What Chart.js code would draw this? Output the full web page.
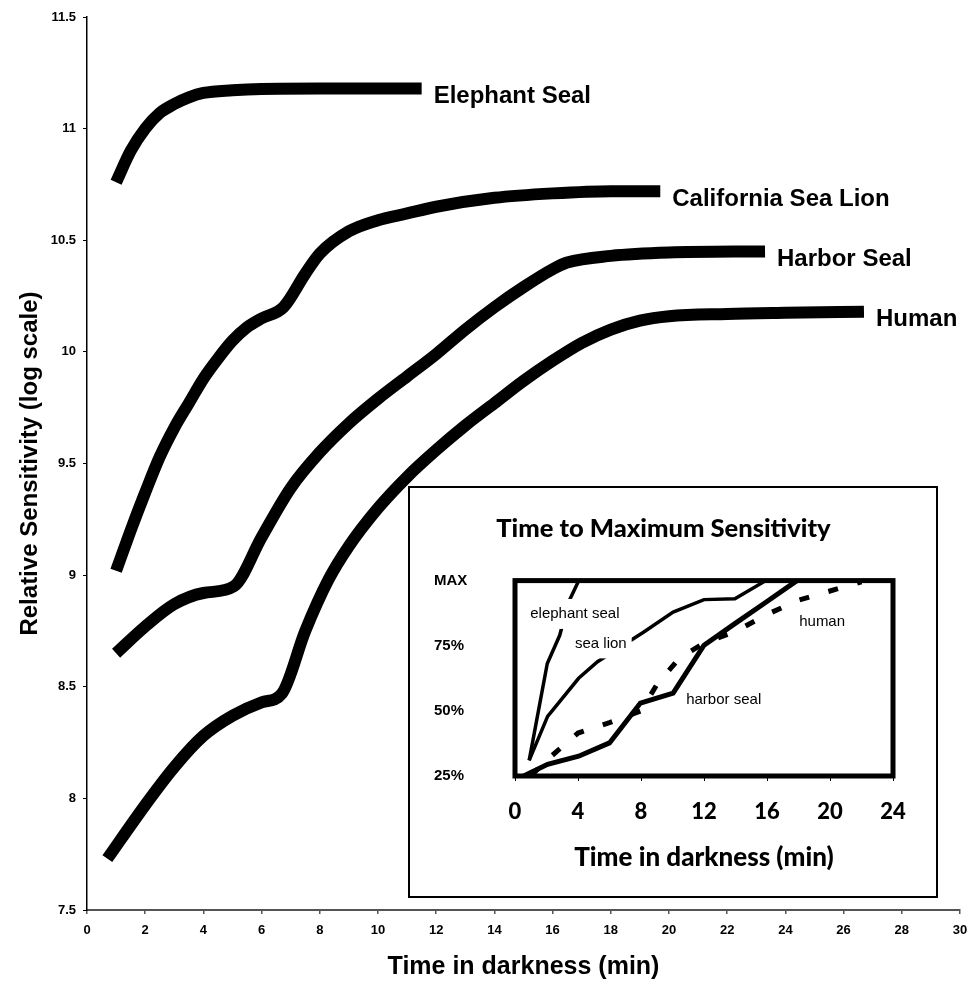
<!DOCTYPE html>
<html>
<head>
<meta charset="utf-8">
<script src="https://cdn.jsdelivr.net/npm/chart.js@4"></script>
<style>
  html, body { margin: 0; padding: 0; background: #fff; }
  #wrap { position: relative; width: 967px; height: 982px; }
  #main { display: block; }
  #inset { position: absolute; left: 408px; top: 486px; width: 530px; height: 412px;
           border: 2px solid #000; box-sizing: border-box; background: #fff; }
  #insetChart { display: block; }
</style>
</head>
<body>
<div id="wrap">
  <canvas id="main" width="967" height="982"></canvas>
  <div id="inset"><canvas id="insetChart" width="526" height="408"></canvas></div>
</div>
<script>
// ===== Main chart data =====
const seriesNames = ['Elephant Seal', 'California Sea Lion', 'Harbor Seal', 'Human'];

const elephantX = [1, 1.5, 2, 2.5, 3, 3.5, 4, 5, 6, 8, 10, 11.5];
const elephantY = [10.76, 10.9, 11.0, 11.07, 11.11, 11.14, 11.16, 11.172, 11.178, 11.18, 11.18, 11.18];

const seaLionX = [1, 1.5, 2, 2.5, 3, 3.5, 4, 4.5, 5, 5.5, 6, 6.75, 7.5, 8, 9, 10, 11, 12, 14, 16, 18, 19.7];
const seaLionY = [9.02, 9.2, 9.37, 9.53, 9.66, 9.77, 9.88, 9.97, 10.05, 10.11, 10.15, 10.2, 10.35, 10.44, 10.54, 10.59, 10.62, 10.65, 10.69, 10.71, 10.72, 10.72];

const harborX = [1, 2, 3, 4, 5.05, 6, 7, 8, 9, 10, 11, 12, 13, 14, 15, 16, 16.5, 18, 20, 23.3];
const harborY = [8.65, 8.77, 8.87, 8.92, 8.95, 9.17, 9.39, 9.55, 9.68, 9.79, 9.89, 9.99, 10.1, 10.2, 10.29, 10.37, 10.4, 10.43, 10.445, 10.45];

const humanX = [0.7, 2, 3, 4, 5, 6, 6.7, 7.5, 8.3, 9, 10, 11, 12, 13, 14, 15, 16, 17, 18, 19, 20, 22, 24, 26.7];
const humanY = [7.73, 7.97, 8.14, 8.28, 8.37, 8.43, 8.47, 8.75, 8.98, 9.13, 9.3, 9.44, 9.56, 9.67, 9.77, 9.87, 9.96, 10.04, 10.1, 10.14, 10.16, 10.17, 10.175, 10.18];

// ===== Inset data =====
const insetNames = ['elephant seal', 'sea lion', 'harbor seal', 'human'];
const insetTickValues = [25, 50, 75, 100];
const insetTickLabels = ['25%', '50%', '75%', 'MAX'];

const inElephantX = [0.9, 2.05, 2.84, 3.4, 4.05];
const inElephantY = [31, 68.2, 79, 91.7, 100];

const inSeaLionX = [0.9, 2.07, 4.04, 5.24, 8.18, 10.04, 12.0, 13.96, 15.93];
const inSeaLionY = [31, 47.9, 62.5, 68.85, 80.3, 87.9, 92.7, 93.0, 100];

const inHarborX = [0.55, 2.07, 4.04, 6.0, 7.96, 10.04, 12.0, 13.96, 15.93, 17.9];
const inHarborY = [25, 29.5, 32.6, 37.7, 53, 56.8, 75.2, 83.5, 91.7, 100];

const inHumanX = [1, 2, 4, 6, 8, 9, 10.4, 12, 14, 16, 18, 20, 22];
const inHumanY = [25, 31, 41.5, 45.5, 50, 60, 70, 76, 80.5, 87, 92.5, 96, 99.5];

const pts = (xs, ys) => xs.map((x, i) => ({ x, y: ys[i] }));
const ARIAL = '"Liberation Sans", Arial, sans-serif';
const INSET_FONT = 'Lato, "Open Sans", sans-serif';

// ===== Main chart =====
const mainData = [[elephantX, elephantY], [seaLionX, seaLionY], [harborX, harborY], [humanX, humanY]];

// series names written right after the end of each curve
const endLabels = {
  id: 'endLabels',
  afterDatasetsDraw(chart) {
    const { ctx, scales: { x, y } } = chart;
    ctx.save();
    ctx.font = 'bold 24px ' + ARIAL;
    ctx.fillStyle = '#000';
    ctx.textAlign = 'left';
    ctx.textBaseline = 'middle';
    chart.data.datasets.forEach((ds, i) => {
      const last = ds.data[ds.data.length - 1];
      ctx.fillText(seriesNames[i], x.getPixelForValue(last.x) + 12, y.getPixelForValue(last.y) + 8);
    });
    ctx.restore();
  }
};

new Chart(document.getElementById('main'), {
  type: 'line',
  data: {
    datasets: mainData.map((d, i) => ({
      label: seriesNames[i],
      data: pts(d[0], d[1]),
      borderColor: '#000',
      borderWidth: 12,
      borderCapStyle: 'butt',
      borderJoinStyle: 'round',
      cubicInterpolationMode: 'monotone',
      pointRadius: 0,
      fill: false,
      clip: false
    }))
  },
  options: {
    responsive: false,
    animation: false,
    layout: { padding: { left: 0, right: 0, top: 17, bottom: 0 } },
    plugins: { legend: { display: false }, tooltip: { enabled: false } },
    scales: {
      x: {
        type: 'linear', min: 0, max: 30,
        ticks: { stepSize: 2, color: '#000', padding: 9, font: { family: ARIAL, size: 13, weight: 'bold' } },
        grid: { drawOnChartArea: false, drawTicks: true, tickLength: 4, color: '#555', lineWidth: 1.5 },
        border: { color: '#555', width: 2 },
        title: { display: true, text: 'Time in darkness (min)', color: '#000',
                 font: { family: ARIAL, size: 25, weight: 'bold' }, padding: { top: 0, bottom: 0 } },
        afterFit(s) { s.height = 72; s.paddingRight = 7; s.paddingLeft = 0; }
      },
      y: {
        min: 7.5, max: 11.5,
        ticks: { stepSize: 0.5, color: '#000', padding: 7, font: { family: ARIAL, size: 13, weight: 'bold' },
                 callback: (v) => String(v) },
        grid: { drawOnChartArea: false, drawTicks: true, tickLength: 4, color: '#000' },
        border: { color: '#000', width: 1.5 },
        title: { display: true, text: 'Relative Sensitivity (log scale)', color: '#000',
                 font: { family: ARIAL, size: 24, weight: 'bold' }, padding: { top: 16, bottom: 0 } },
        afterFit(s) { s.width = 87; }
      }
    }
  },
  plugins: [endLabels]
});

// ===== Inset chart =====
const insetData = [[inElephantX, inElephantY], [inSeaLionX, inSeaLionY], [inHarborX, inHarborY], [inHumanX, inHumanY]];
const insetWidths = [3.5, 3.5, 5, 5];

// thick frame round the plot area + in-plot labels on white boxes
const insetDecor = {
  id: 'insetDecor',
  afterDatasetsDraw(chart) {
    const { ctx, chartArea: a, scales: { x, y } } = chart;
    ctx.save();
    ctx.strokeStyle = '#000';
    ctx.lineWidth = 5;
    ctx.strokeRect(a.left, a.top, a.right - a.left, a.bottom - a.top);

    const anchors = [[3.8, 87.2], [5.45, 75.9], [13.25, 54.1], [19.5, 84]];
    ctx.font = '15px ' + ARIAL;
    ctx.textAlign = 'center';
    ctx.textBaseline = 'middle';
    anchors.forEach((p, i) => {
      const px = x.getPixelForValue(p[0]);
      const py = y.getPixelForValue(p[1]);
      const w = ctx.measureText(insetNames[i]).width + 10;
      ctx.fillStyle = '#fff';
      ctx.fillRect(px - w / 2, py - 15, w, 30);
      ctx.fillStyle = '#000';
      ctx.fillText(insetNames[i], px, py);
    });
    ctx.restore();
  }
};

new Chart(document.getElementById('insetChart'), {
  type: 'line',
  data: {
    datasets: insetData.map((d, i) => ({
      label: insetNames[i],
      data: pts(d[0], d[1]),
      borderColor: '#000',
      borderWidth: insetWidths[i],
      borderDash: i === 3 ? [10, 20] : [],
      borderCapStyle: 'butt',
      borderJoinStyle: 'miter',
      tension: 0,
      pointRadius: 0,
      fill: false
    }))
  },
  options: {
    responsive: false,
    animation: false,
    layout: { padding: { left: 24, right: 43, top: 0, bottom: 0 } },
    plugins: {
      legend: { display: false },
      tooltip: { enabled: false },
      title: { display: true, text: 'Time to Maximum Sensitivity', color: '#000',
               font: { family: INSET_FONT, size: 25.5, weight: '900' }, padding: { top: 25, bottom: 37 } }
    },
    scales: {
      x: {
        type: 'linear', min: 0, max: 24,
        ticks: { stepSize: 4, color: '#000', padding: 18, font: { family: INSET_FONT, size: 22, weight: '900' } },
        grid: { drawOnChartArea: false, drawTicks: true, tickLength: 5, color: '#000' },
        border: { display: false },
        title: { display: true, text: 'Time in darkness (min)', color: '#000',
                 font: { family: INSET_FONT, size: 26, weight: '900' }, padding: { top: 0, bottom: 23 } },
        afterFit(s) { s.height = 120; }
      },
      y: {
        min: 25, max: 100,
        afterBuildTicks(s) { s.ticks = insetTickValues.map(v => ({ value: v })); },
        ticks: {
          color: '#000', crossAlign: 'far', font: { family: ARIAL, size: 15, weight: 'bold' },
          callback: (v) => insetTickLabels[insetTickValues.indexOf(v)]
        },
        grid: { display: false },
        border: { display: false },
        afterFit(s) { s.width = 81; }
      }
    }
  },
  plugins: [insetDecor]
});
</script>
</body>
</html>
